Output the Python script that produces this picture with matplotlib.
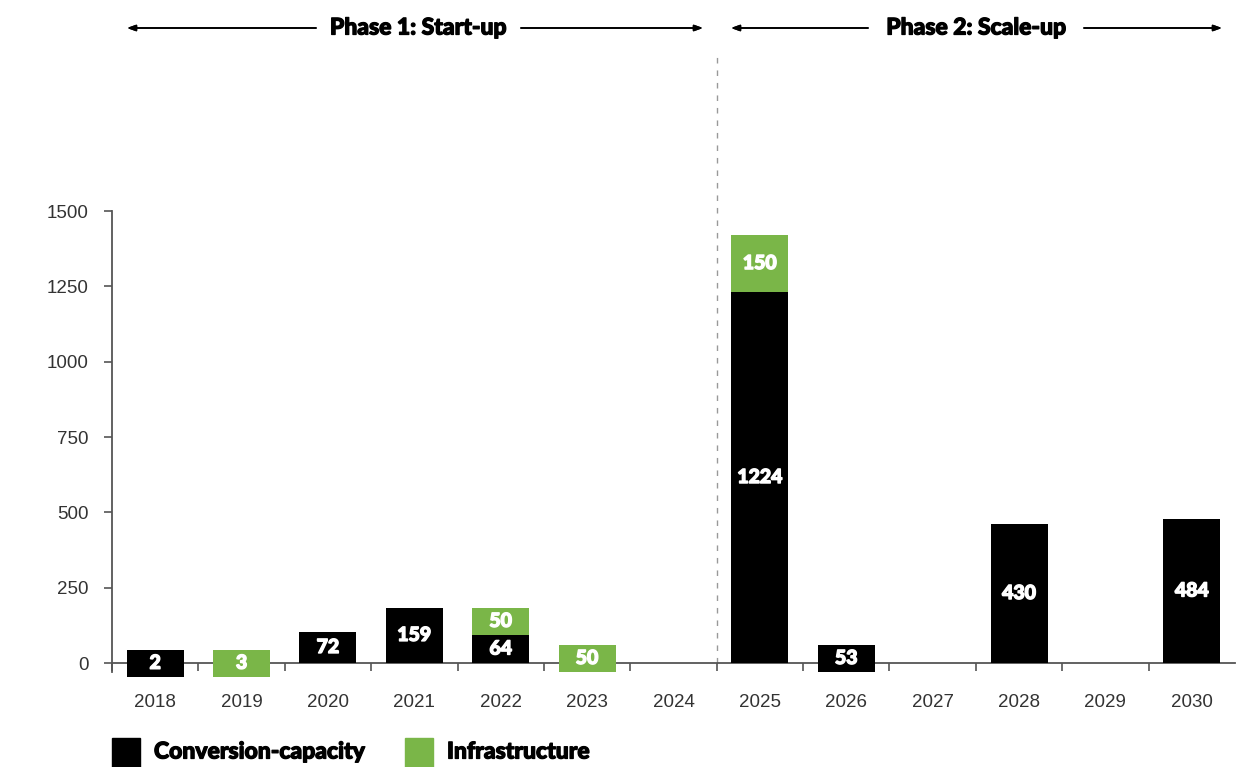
import matplotlib
matplotlib.use("Agg")
import matplotlib.pyplot as plt
from matplotlib.patches import Rectangle
import matplotlib.patheffects as pe

# ---- data ----
years = ["2018", "2019", "2020", "2021", "2022", "2023", "2024",
         "2025", "2026", "2027", "2028", "2029", "2030"]
# values shown as labels
conv_labels = [2, 0, 72, 159, 64, 0, 0, 1224, 53, 0, 430, 0, 484]
infra_labels = [0, 3, 0, 0, 50, 50, 0, 150, 0, 0, 0, 0, 0]
# drawn bar extents (bottom, top)
conv_bottom = [-45, 0, 0, 0, 0, 0, 0, 0, -30, 0, 0, 0, 0]
conv_top = [43, 0, 103, 183, 93, 0, 0, 1231, 60, 0, 461, 0, 478]
infra_bottom = [0, -45, 0, 0, 93, -30, 0, 1231, 0, 0, 0, 0, 0]
infra_top = [0, 43, 0, 0, 183, 60, 0, 1420, 0, 0, 0, 0, 0]
yticks = [0, 250, 500, 750, 1000, 1250, 1500]
phases = ["Phase 1: Start-up", "Phase 2: Scale-up"]
legend_labels = ["Conversion-capacity", "Infrastructure"]

BLACK = "#000000"
GREEN = "#7ab648"
AX = "#555555"
HEAVY = ["Lato", "DejaVu Sans"]

def thick(color, lw=1.0):
    return [pe.withStroke(linewidth=lw, foreground=color)]

W, H = 1257, 767
fig = plt.figure(figsize=(W / 100, H / 100), dpi=100)

# axes: x from px 112 to 1235, y: 0 at px 663, 1500 at px 211
y0_px, y1500_px = 663, 211
ppu = (y0_px - y1500_px) / 1500.0
ymin = -150
ax_bottom_px = y0_px + (-ymin) * ppu
ax = fig.add_axes([112 / W, 1 - ax_bottom_px / H, (1235 - 112) / W,
                   (ax_bottom_px - y1500_px) / H])
ax.set_xlim(-0.5, len(years) - 0.5)
ax.set_ylim(ymin, 1500)

width = 0.66
x = list(range(len(years)))
cb = [t - b for t, b in zip(conv_top, conv_bottom)]
ib = [t - b for t, b in zip(infra_top, infra_bottom)]
ax.bar(x, cb, bottom=conv_bottom, width=width, color=BLACK, zorder=3)
ax.bar(x, ib, bottom=infra_bottom, width=width, color=GREEN, zorder=3)

for i in x:
    for lab, top, bot in ((conv_labels[i], conv_top[i], conv_bottom[i]),
                          (infra_labels[i], infra_top[i], infra_bottom[i])):
        if lab:
            ax.text(i, (top + bot) / 2, str(lab), ha="center", va="center",
                    color="white", fontsize=14, fontweight="black",
                    family=HEAVY, zorder=4, path_effects=thick("white", 1.0))

# spines
for s in ["top", "right"]:
    ax.spines[s].set_visible(False)
ax.spines["bottom"].set_position(("data", 0))
ax.spines["bottom"].set_color(AX)
ax.spines["bottom"].set_linewidth(1.3)
ax.spines["left"].set_color(AX)
ax.spines["left"].set_linewidth(1.3)
ax.spines["left"].set_bounds(-30, 1500)

ax.set_yticks(yticks)
ax.set_yticklabels([str(v) for v in yticks], fontsize=13.5,
                   family="Liberation Sans", color="#333333")
ax.tick_params(axis="y", length=6, width=1.2, color=AX, pad=11)

ax.set_xticks(x)
ax.set_xticklabels(years, fontsize=13.5, family="Liberation Sans",
                   color="#333333")
ax.tick_params(axis="x", which="major", length=0, pad=22)
ax.set_xticks([i - 0.5 for i in x], minor=True)
ax.tick_params(axis="x", which="minor", length=6, width=1.2, color=AX,
               direction="out")

# dashed phase divider
ax.plot([6.5, 6.5], [0, 2020], ls=(0, (4, 5)), color="#999999", lw=1,
        clip_on=False, zorder=1)

# phase headers with arrows (figure pixel coords)
hy = 1 - 28 / H
def header(text, cx, left, right, tl, tr):
    fig.text(cx / W, hy, text, ha="center", va="center", fontsize=16.5,
             fontweight="black", family=HEAVY, color="black",
             path_effects=thick("black", 0.9))
    ap = dict(arrowstyle="-|>,head_length=0.5,head_width=0.18",
              color="black", lw=1.2, shrinkA=0, shrinkB=0)
    fig.add_artist(plt.annotate("", xy=(left / W, hy), xytext=(tl / W, hy),
                                xycoords="figure fraction",
                                textcoords="figure fraction", arrowprops=ap))
    fig.add_artist(plt.annotate("", xy=(right / W, hy), xytext=(tr / W, hy),
                                xycoords="figure fraction",
                                textcoords="figure fraction", arrowprops=ap))

header(phases[0], 418, 127, 703, 316, 521)
header(phases[1], 976, 731, 1222, 868, 1084)

# legend
ly = 1 - 752 / H
fig.add_artist(Rectangle((112 / W, 1 - 767 / H), 28 / W, 29 / H,
                         transform=fig.transFigure, color=BLACK))
fig.text(154 / W, ly, legend_labels[0], ha="left", va="center", fontsize=16.5,
         fontweight="black", family=HEAVY, path_effects=thick("black", 0.9))
fig.add_artist(Rectangle((405 / W, 1 - 767 / H), 28 / W, 29 / H,
                         transform=fig.transFigure, color=GREEN))
fig.text(447 / W, ly, legend_labels[1], ha="left", va="center", fontsize=16.5,
         fontweight="black", family=HEAVY, path_effects=thick("black", 0.9))

fig.savefig("out.png", dpi=100)
